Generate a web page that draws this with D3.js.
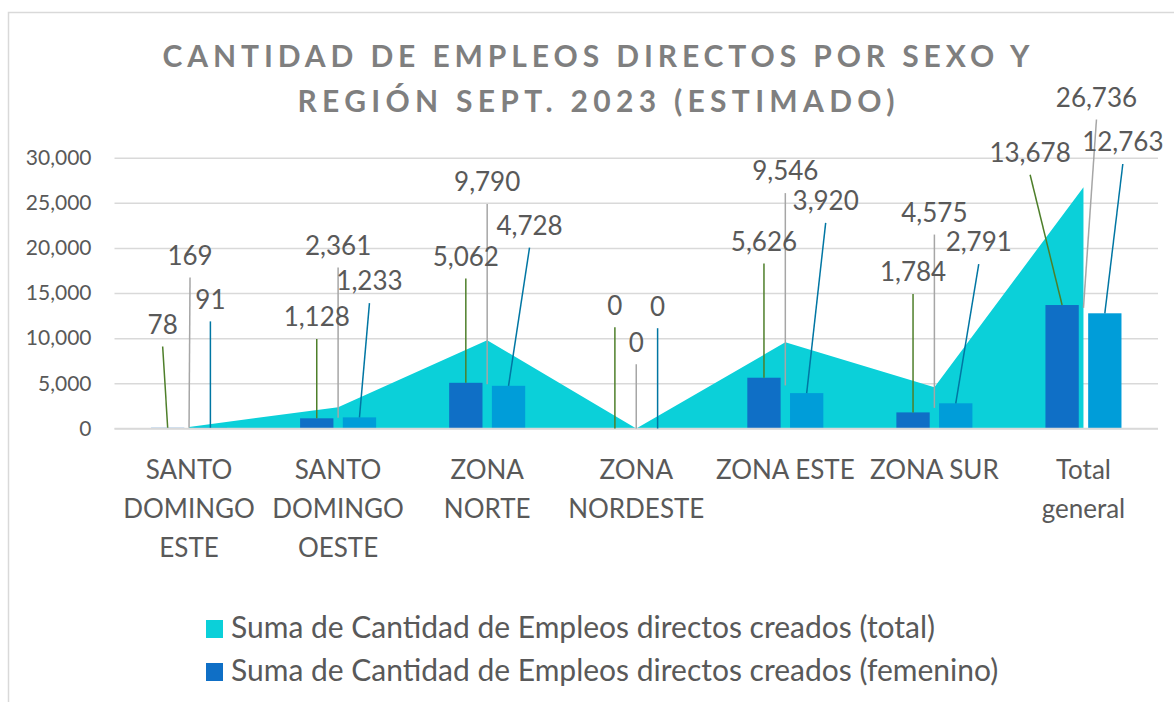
<!DOCTYPE html>
<html>
<head>
<meta charset="utf-8">
<script src="https://cdnjs.cloudflare.com/ajax/libs/d3/7.8.5/d3.min.js"></script>
<style>
	body { margin: 0; background: #fff; }
	text { font-family: Lato, "Open Sans", sans-serif; }
</style>
</head>
<body>
<div id="chart"></div>
<script>
//---------------- data ----------------------
var categories = ["SANTO DOMINGO ESTE", "SANTO DOMINGO OESTE", "ZONA NORTE", "ZONA NORDESTE", "ZONA ESTE", "ZONA SUR", "Total general"];
var tickLabels = [["SANTO", "DOMINGO", "ESTE"], ["SANTO", "DOMINGO", "OESTE"], ["ZONA", "NORTE"], ["ZONA", "NORDESTE"], ["ZONA ESTE"], ["ZONA SUR"], ["Total", "general"]];
var total = [169, 2361, 9790, 0, 9546, 4575, 26736];
var femenino = [78, 1128, 5062, 0, 5626, 1784, 13678];
var masculino = [91, 1233, 4728, 0, 3920, 2791, 12763];
var yTicks = [0, 5000, 10000, 15000, 20000, 25000, 30000];
// only the first two legend entries fit inside the picture
var legendNames = ["Suma de Cantidad de Empleos directos creados (total)",
	"Suma de Cantidad de Empleos directos creados (femenino)"];
var titleLines = ["CANTIDAD DE EMPLEOS DIRECTOS POR SEXO Y", "REGIÓN SEPT. 2023 (ESTIMADO)"];

// label offsets [dx, dy] from the leader anchor (moved by hand in the original)
var femLabelPos = [[-5, 94], [0, 92], [0, 117], [0, 114], [0, 127], [0, 131], [-32, 143]];
var masLabelPos = [[0, 119], [10, 127], [21, 151], [0, 113], [19, 183], [23, 152], [18, 162]];
var totLabelPos = [[1, 163], [0, 163], [0, 193], [0, 77], [0, 205], [0, 186], [13, 201]];

//---------------- sizes ----------------------
var w = 1174;
var h = 702;
var plotLeft = 114.5;
var plotRight = 1158;
var plotTop = 157.7;
var plotBottom = 428.5;

var colors = {
	total: "#0BD0D9",
	fem: "#0F6FC6",
	mas: "#009DD9"
};

var svg = d3.select("#chart").append("svg")
	.attr("width", w)
	.attr("height", h);

// chart border
svg.append("rect")
	.attr("x", 8.5)
	.attr("y", 12.5)
	.attr("width", w + 20)
	.attr("height", h + 20)
	.attr("fill", "none")
	.attr("stroke", "#D9D9D9")
	.attr("stroke-width", 1.5);

//---------------- scales ----------------------
var xScale = d3.scaleBand()
	.domain(categories)
	.range([plotLeft, plotRight])
	.paddingInner(0.49)
	.paddingOuter(0.245);

var xSub = d3.scaleBand()
	.domain(["fem", "mas"])
	.range([0, xScale.bandwidth()])
	.paddingInner(0.22);

var yScale = d3.scaleLinear()
	.domain([0, 30000])
	.range([plotBottom, plotTop]);

var cx = function(i) {
	return xScale(categories[i]) + xScale.bandwidth() / 2;
};

//---------------- title ----------------------
svg.selectAll(".title")
	.data(titleLines)
	.enter()
	.append("text")
	.attr("class", "title")
	.attr("x", 596)
	.attr("y", function(d, i) { return 66.7 + i * 45; })
	.attr("text-anchor", "middle")
	.attr("textLength", function(d, i) { return i == 0 ? 867 : 597; })
	.attr("lengthAdjust", "spacing")
	.style("font-size", "30px")
	.style("font-weight", "bold")
	.style("fill", "#7F7F7F")
	.text(function(d) { return d; });

//---------------- gridlines + y axis ----------------------
var grid = svg.append("g")
	.attr("transform", "translate(" + plotLeft + ",0)")
	.call(d3.axisLeft(yScale).tickValues(yTicks).tickSize(-(plotRight - plotLeft)).tickFormat(""));
grid.select(".domain").remove();
grid.selectAll("line").attr("stroke", "#D9D9D9").attr("stroke-width", 1.5);

var yaxis = svg.append("g")
	.attr("transform", "translate(" + (plotLeft - 23) + ",0)")
	.call(d3.axisLeft(yScale).tickValues(yTicks).tickSize(0).tickPadding(0).tickFormat(d3.format(",")));
yaxis.select(".domain").remove();
yaxis.selectAll("text")
	.style("font-family", "Lato, sans-serif")
	.style("font-size", "21px")
	.attr("fill", "#595959");

//---------------- area (total) ----------------------
var area = d3.area()
	.x(function(d, i) { return cx(i); })
	.y0(yScale(0))
	.y1(function(d) { return yScale(d); });

svg.append("path")
	.datum(total)
	.attr("d", area)
	.attr("fill", colors.total);

//---------------- bars ----------------------
var bars = [
	{ key: "fem", values: femenino, color: colors.fem },
	{ key: "mas", values: masculino, color: colors.mas }
];

bars.forEach(function(s) {
	svg.append("g").selectAll("rect")
		.data(s.values)
		.enter()
		.append("rect")
		.attr("x", function(d, i) { return xScale(categories[i]) + xSub(s.key); })
		.attr("y", function(d) { return yScale(d); })
		.attr("width", xSub.bandwidth())
		.attr("height", function(d) { return yScale(0) - yScale(d); })
		.attr("fill", s.color);
});

// x axis line
svg.append("line")
	.attr("x1", plotLeft)
	.attr("x2", plotRight)
	.attr("y1", yScale(0))
	.attr("y2", yScale(0))
	.attr("stroke", "#D9D9D9")
	.attr("stroke-width", 1.5);

//---------------- labels with leader lines ----------------------
var labelSets = [
	{ values: femenino, pos: femLabelPos, color: "#4E7F2A",
		ax: function(i) { return xScale(categories[i]) + xSub("fem") + xSub.bandwidth() / 2; },
		ay: function(d) { return yScale(d); } },
	{ values: total, pos: totLabelPos, color: "#A6A6A6",
		ax: function(i) { return cx(i); },
		ay: function(d) { return yScale(d / 2); } },
	{ values: masculino, pos: masLabelPos, color: "#0076A3",
		ax: function(i) { return xScale(categories[i]) + xSub("mas") + xSub.bandwidth() / 2; },
		ay: function(d) { return yScale(d); } }
];

var fmt = d3.format(",");

labelSets.forEach(function(s) {
	var g = svg.append("g");
	g.selectAll("line")
		.data(s.values)
		.enter()
		.append("line")
		.attr("x1", function(d, i) { return s.ax(i); })
		.attr("y1", function(d) { return s.ay(d); })
		.attr("x2", function(d, i) { return s.ax(i) + s.pos[i][0]; })
		.attr("y2", function(d, i) { return s.ay(d) - s.pos[i][1] + 12.7; })
		.attr("stroke", s.color)
		.attr("stroke-width", 1.5);
});

labelSets.forEach(function(s) {
	svg.append("g").selectAll("text")
		.data(s.values)
		.enter()
		.append("text")
		.attr("x", function(d, i) { return s.ax(i) + s.pos[i][0]; })
		.attr("y", function(d, i) { return s.ay(d) - s.pos[i][1]; })
		.attr("text-anchor", "middle")
		.style("font-size", "26px")
		.style("fill", "#595959")
		.text(function(d) { return fmt(d); });
});

//---------------- category labels ----------------------
var cats = svg.append("g").selectAll("text")
	.data(tickLabels)
	.enter()
	.append("text")
	.attr("text-anchor", "middle")
	.style("font-size", "26px")
	.style("fill", "#595959");

cats.selectAll("tspan")
	.data(function(d, i) { return d.map(function(t) { return { t: t, i: i }; }); })
	.enter()
	.append("tspan")
	.attr("x", function(d) { return cx(d.i); })
	.attr("y", function(d, j) { return 479 + j * 39; })
	.text(function(d) { return d.t; });

//---------------- legend ----------------------
var legendColors = [colors.total, colors.fem];
var legend = svg.append("g").selectAll("g")
	.data(legendNames)
	.enter()
	.append("g")
	.attr("transform", function(d, i) { return "translate(206," + (638 + i * 43) + ")"; });

legend.append("rect")
	.attr("x", 0)
	.attr("y", -18)
	.attr("width", 17)
	.attr("height", 18)
	.attr("fill", function(d, i) { return legendColors[i]; });

legend.append("text")
	.attr("x", 25)
	.attr("y", 0)
	.style("font-size", "30px")
	.style("fill", "#595959")
	.text(function(d) { return d; });
</script>
</body>
</html>
